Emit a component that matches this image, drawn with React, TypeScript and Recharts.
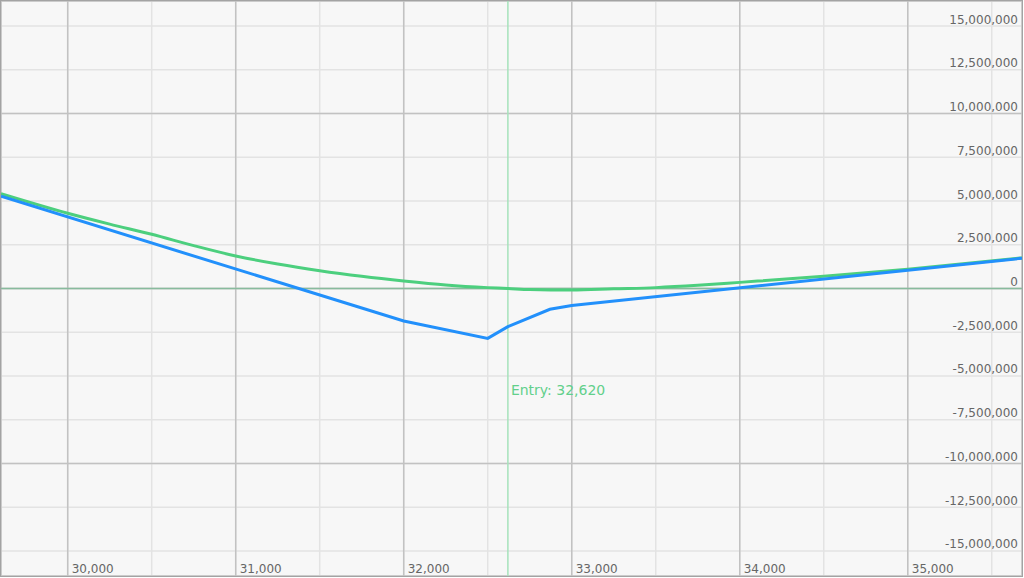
import { CartesianGrid, Line, LineChart, ReferenceLine, XAxis, YAxis } from "recharts";

// underlying price vs. P&L
const BLUE_PRICES = [29603, 32000, 32500, 32620, 32870, 33000, 35680];
const BLUE_PNL = [5.27, -1.86, -2.85, -2.18, -1.19, -0.97, 1.73];

const GREEN_PRICES = [
  29603, 30000, 30250, 30500, 30750, 31000, 31250, 31500, 31750, 32000, 32250,
  32500, 32620, 32750, 33000, 33250, 33500, 33750, 34000, 34500, 35000, 35680,
];
const GREEN_PNL = [
  5.42, 4.3, 3.68, 3.1, 2.45, 1.86, 1.4, 1.02, 0.7, 0.43, 0.2,
  0.05, 0.0, -0.06, -0.09, -0.02, 0.05, 0.18, 0.35, 0.7, 1.1, 1.75,
];

const X_TICKS = [30000, 31000, 32000, 33000, 34000, 35000];
const X_MINOR_TICKS = [30000, 30500, 31000, 31500, 32000, 32500, 33000, 33500, 34000, 34500, 35000, 35500];
const Y_TICKS = [
  -15e6, -12.5e6, -10e6, -7.5e6, -5e6, -2.5e6, 0, 2.5e6, 5e6, 7.5e6, 10e6, 12.5e6, 15e6,
];
const Y_MAJOR_TICKS = [-10e6, 0, 10e6];

const ENTRY_PRICE = 32620;

const X_DOMAIN = [29603, 35680];
const Y_DOMAIN = [-16.43e6, 16.43e6];

const blueData = BLUE_PRICES.map((price, i) => ({ price, pnl: BLUE_PNL[i] * 1e6 }));
const greenData = GREEN_PRICES.map((price, i) => ({ price, pnl: GREEN_PNL[i] * 1e6 }));

const FONT = "'DejaVu Sans', Verdana, sans-serif";
const fmt = (v: number) => v.toLocaleString("en-US");

function XTick(props: any) {
  const { x, y, payload } = props;
  return (
    <text x={x + 4} y={y - 3.5} fontSize={12} fontFamily={FONT} fill="#666" textAnchor="start">
      {fmt(payload.value)}
    </text>
  );
}

function YTick(props: any) {
  const { x, y, payload } = props;
  return (
    <text x={x - 4} y={y - 2.5} fontSize={12} fontFamily={FONT} fill="#666" textAnchor="end">
      {fmt(payload.value)}
    </text>
  );
}

function EntryLabel(props: any) {
  const { viewBox } = props;
  return (
    <text x={viewBox.x + 3} y={viewBox.y + 394} fontSize={14} fontFamily={FONT} fill="#62d08b">
      Entry: {fmt(ENTRY_PRICE)}
    </text>
  );
}

export default function App() {
  return (
    <div
      style={{
        position: "absolute",
        left: 0,
        top: 0,
        width: 1021,
        height: 575,
        border: "1px solid #a3a3a3",
        background: "#f7f7f7",
        overflow: "hidden",
      }}
    >
      <LineChart width={1021} height={575} margin={{ top: 0, right: 0, bottom: 0, left: 0 }}>
        <XAxis
          xAxisId="x"
          type="number"
          dataKey="price"
          domain={X_DOMAIN}
          ticks={X_TICKS}
          allowDataOverflow
          mirror
          axisLine={false}
          tickLine={false}
          tickSize={0}
          tickMargin={0}
          tick={<XTick />}
          interval={0}
        />
        <XAxis xAxisId="xMinor" type="number" dataKey="price" domain={X_DOMAIN} ticks={X_MINOR_TICKS} allowDataOverflow hide />
        <YAxis
          yAxisId="y"
          orientation="right"
          type="number"
          domain={Y_DOMAIN}
          ticks={Y_TICKS}
          allowDataOverflow
          mirror
          axisLine={false}
          tickLine={false}
          tickSize={0}
          tickMargin={0}
          tick={<YTick />}
          interval={0}
        />
        <YAxis yAxisId="yMajor" type="number" domain={Y_DOMAIN} ticks={Y_MAJOR_TICKS} allowDataOverflow hide />
        <CartesianGrid xAxisId="xMinor" yAxisId="y" stroke="#e3e3e3" strokeWidth={1.5} />
        <CartesianGrid xAxisId="x" yAxisId="yMajor" stroke="#c2c2c2" strokeWidth={1.5} />
        <ReferenceLine xAxisId="x" yAxisId="y" y={0} stroke="#88bb9d" strokeWidth={1.5} />
        <ReferenceLine
          xAxisId="x"
          yAxisId="y"
          x={ENTRY_PRICE}
          stroke="#a6e3bb"
          strokeWidth={1.5}
          label={<EntryLabel />}
        />
        <Line
          xAxisId="x"
          yAxisId="y"
          data={greenData}
          dataKey="pnl"
          type="monotone"
          stroke="#4ccf7e"
          strokeWidth={3}
          dot={false}
          isAnimationActive={false}
        />
        <Line
          xAxisId="x"
          yAxisId="y"
          data={blueData}
          dataKey="pnl"
          type="linear"
          stroke="#2290fb"
          strokeWidth={3}
          dot={false}
          isAnimationActive={false}
        />
      </LineChart>
    </div>
  );
}
